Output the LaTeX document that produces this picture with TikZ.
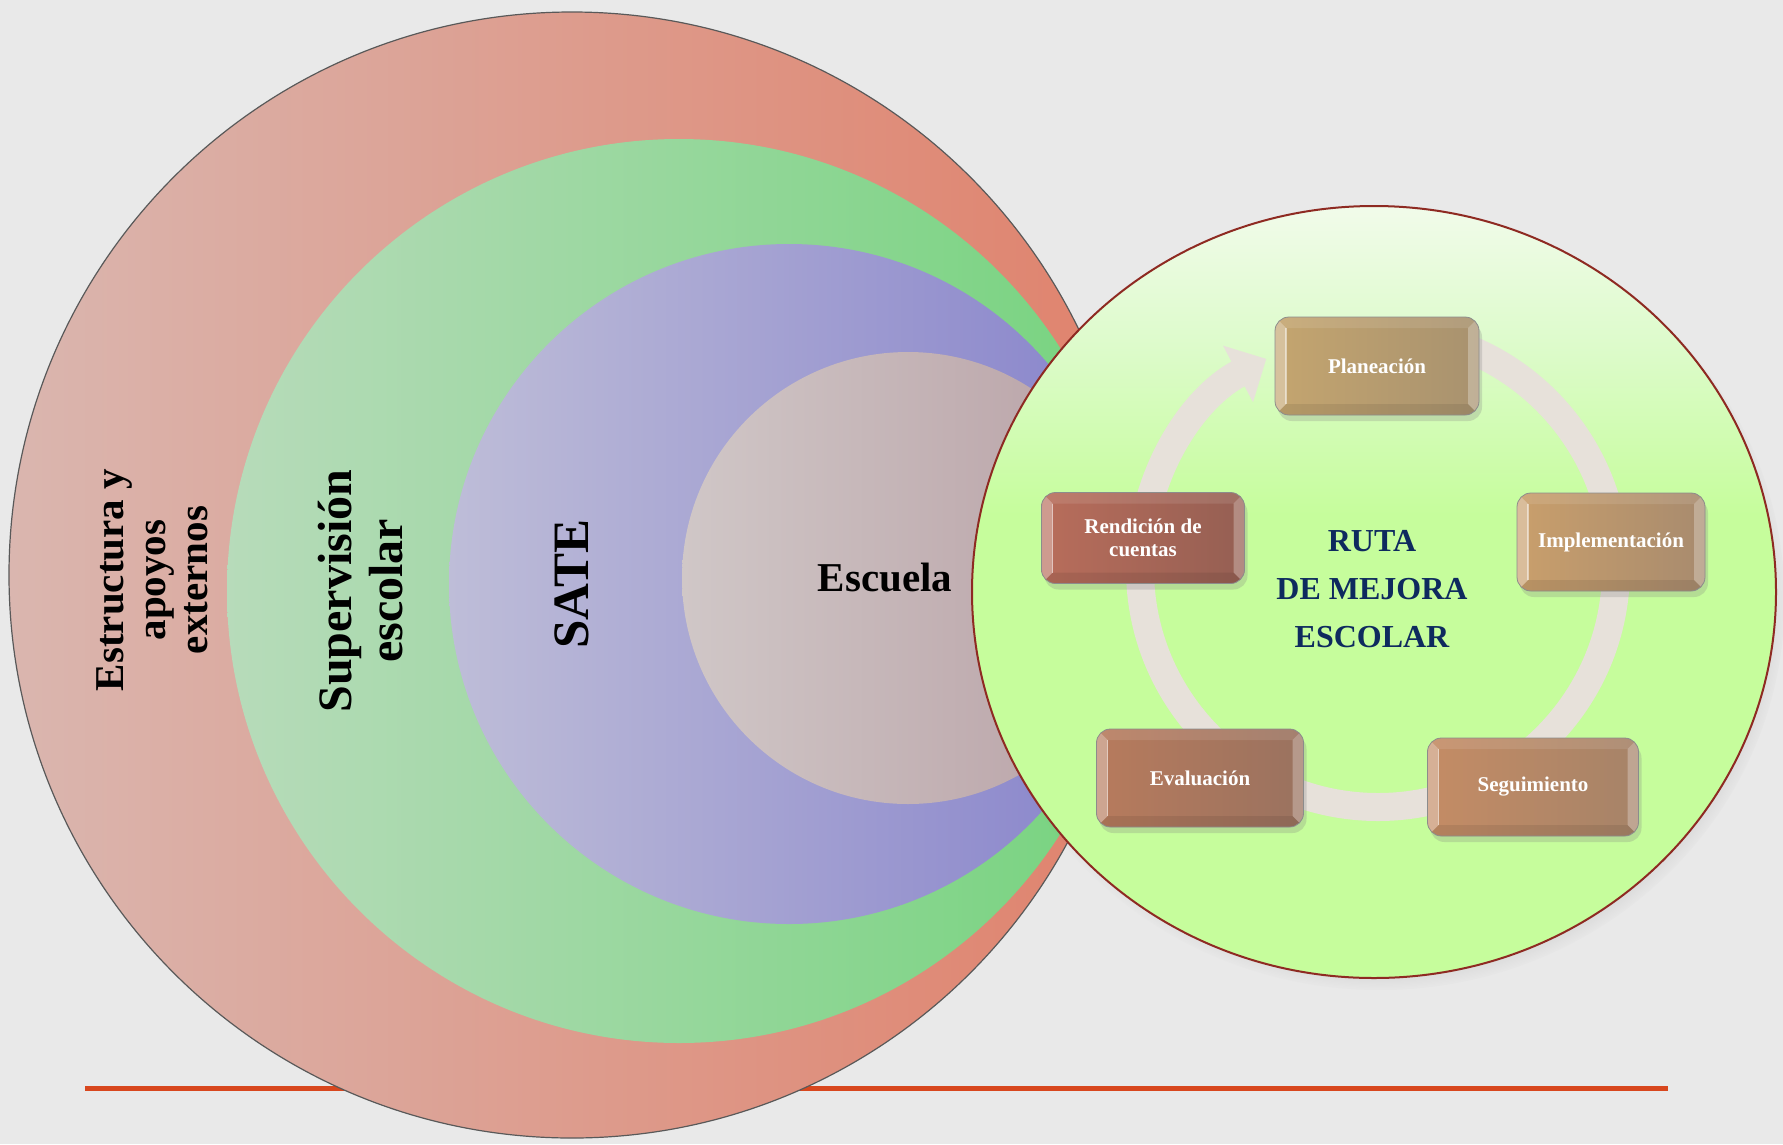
\documentclass[tikz,border=0pt]{standalone}
\usepackage{fontspec}
\setmainfont{Liberation Serif}
\usepackage{xcolor}
\usetikzlibrary{shadows,arrows.meta,shapes.geometric}

\definecolor{fondo}{HTML}{E9E9E9}
\definecolor{lineaNaranja}{HTML}{D8471E}
\definecolor{rojoIzq}{HTML}{DAB6AF}
\definecolor{rojoDer}{HTML}{E0826C}
\definecolor{verdeIzq}{HTML}{B7DBBA}
\definecolor{verdeDer}{HTML}{76D37E}
\definecolor{moradoIzq}{HTML}{BEBDD8}
\definecolor{moradoDer}{HTML}{8783CB}
\definecolor{escuelaIzq}{HTML}{D0C7C7}
\definecolor{escuelaDer}{HTML}{B8A0A5}
\definecolor{lima}{HTML}{C6FD9C}
\definecolor{limaMedio}{HTML}{DDFBCB}
\definecolor{limaClaro}{HTML}{F1FBEA}
\definecolor{bordeRuta}{HTML}{8E2A22}
\definecolor{azulRuta}{HTML}{0E2A5E}
\definecolor{anilloColor}{HTML}{E7E1DA}
%etapas
\definecolor{planIzq}{HTML}{C4A56F}
\definecolor{planDer}{HTML}{A8926F}
\definecolor{implIzq}{HTML}{C99F6C}
\definecolor{implDer}{HTML}{A88B6E}
\definecolor{seguIzq}{HTML}{C48C65}
\definecolor{seguDer}{HTML}{A68368}
\definecolor{evalIzq}{HTML}{B77B5D}
\definecolor{evalDer}{HTML}{9A725F}
\definecolor{rendIzq}{HTML}{B86D5B}
\definecolor{rendDer}{HTML}{955F53}

\pgfdeclareverticalshading{lente}{100bp}{color(0bp)=(lima); color(25bp)=(lima); color(55bp)=(lima); color(66bp)=(limaMedio); color(75bp)=(limaClaro); color(100bp)=(limaClaro)}

\begin{document}
\begin{tikzpicture}[x=1pt,y=-1pt]
%%%%%%%%%%%%%%%%%%%%%%%%%%%%%%%%%%%%%%%%%%%%%%%%%%%%%%%%%%%%%%
%FONDO
\useasboundingbox (0,0) rectangle (1783,1144);
\fill[fondo] (0,0) rectangle (1783,1144);
\coordinate (lineaIni) at (85,1088);
\coordinate (lineaFin) at (1668,1088);
\draw[lineaNaranja,line width=5pt] (lineaIni) -- (lineaFin);

%%%%%%%%%%%%%%%%%%%%%%%%%%%%%%%%%%%%%%%%%%%%%%%%%%%%%%%%%%%%%%
%CIRCULOS
%vars
\tikzstyle{anillo}=[circle,inner sep=0pt]
\tikzstyle{rotulo}=[rotate=90,align=center,text=black]

%estructura
\node[anillo,minimum size=1126pt,left color=rojoIzq,right color=rojoDer,draw=black!65,line width=1.2pt] (circuloEstructura) at (572,575) {};
%supervision
\node[anillo,minimum size=904pt,left color=verdeIzq,right color=verdeDer] (circuloSupervision) at (679,591) {};
%sate
\node[anillo,minimum size=680pt,left color=moradoIzq,right color=moradoDer] (circuloSate) at (789,584) {};
%escuela
\node[anillo,minimum size=452pt,left color=escuelaIzq,right color=escuelaDer] (circuloEscuela) at (908,578) {};

%textos
\node[rotulo,font=\fontsize{41}{42}\selectfont\bfseries] (textoEstructura) at (152,580) {Estructura y\\apoyos\\externos};
\node[rotulo,font=\fontsize{48}{51}\selectfont\bfseries] (textoSupervision) at (361,591) {Supervisión\\escolar};
\node[rotulo,font=\fontsize{51}{54}\selectfont\bfseries] (textoSate) at (572,584) {SATE};
\node[font=\fontsize{41}{44}\selectfont\bfseries] (textoEscuela) at (885,578) {Escuela};

%%%%%%%%%%%%%%%%%%%%%%%%%%%%%%%%%%%%%%%%%%%%%%%%%%%%%%%%%%%%%%
%RUTA
\node[ellipse,minimum width=804pt,minimum height=772pt,inner sep=0pt,shading=lente,draw=bordeRuta,line width=2pt,
  circular drop shadow={shadow xshift=6pt,shadow yshift=-8pt,shadow scale=1.01,opacity=0.45}] (circuloRuta) at (1374,592) {};
\node[font=\fontsize{32}{48}\selectfont\bfseries,text=azulRuta,align=center] (textoRuta) at (1372,589) {RUTA\\DE MEJORA\\ESCOLAR};

%ciclo
\coordinate (centroCiclo) at (1378,569);
\draw[anilloColor,line width=28pt,shift={(centroCiclo)},->,>={Triangle[width=62pt,length=32pt]}] (270:238) arc[start angle=270,end angle=602,radius=238];

%vars
\tikzstyle{etapa}=[rounded corners=14pt,minimum height=98pt,draw=black!45,line width=0.8pt,text=white,align=center,
  font=\fontsize{21}{23}\selectfont\bfseries,
  drop shadow={opacity=0.25,shadow xshift=3pt,shadow yshift=-6pt},
  path picture={
    \path (path picture bounding box.north west) coordinate (bNO) (path picture bounding box.south east) coordinate (bSE);
    \path (bNO) ++(11pt,-11pt) coordinate (iNO) (bSE) ++(-11pt,11pt) coordinate (iSE);
    \fill[white,opacity=0.10,sharp corners] (bNO) -- (bNO -| bSE) -- (iNO -| iSE) -- (iNO) -- cycle;
    \fill[black,opacity=0.08,sharp corners] (bNO |- bSE) -- (bSE) -- (iSE) -- (iNO |- iSE) -- cycle;
    \fill[white,opacity=0.32,sharp corners] (bNO) -- (iNO) -- (iNO |- iSE) -- (bNO |- bSE) -- cycle;
    \fill[white,opacity=0.28,sharp corners] (bNO -| bSE) -- (iNO -| iSE) -- (iSE) -- (bSE) -- cycle;
    \draw[white,opacity=0.5,line width=1.5pt,sharp corners] (iNO) -- (iNO |- iSE);
  }]

%1
\node[etapa,minimum width=204pt,left color=planIzq,right color=planDer] (planeacion) at (1377,366) {Planeación};
%2
\node[etapa,minimum width=188pt,left color=implIzq,right color=implDer] (implementacion) at (1611,542) {Implementación};
%3
\node[etapa,minimum width=211pt,left color=seguIzq,right color=seguDer] (seguimiento) at (1533,787) {Seguimiento};
%4
\node[etapa,minimum width=207pt,left color=evalIzq,right color=evalDer] (evaluacion) at (1200,778) {Evaluación};
%5
\node[etapa,minimum width=203pt,minimum height=91pt,left color=rendIzq,right color=rendDer] (rendicion) at (1143,538) {Rendición de\\cuentas};
\end{tikzpicture}
\end{document}
